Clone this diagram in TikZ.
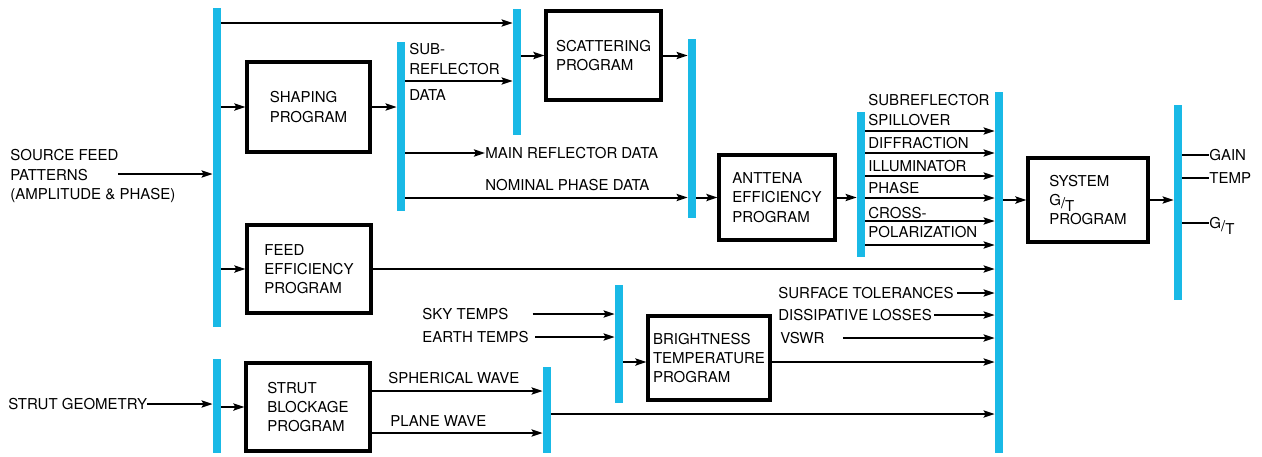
\documentclass[tikz,border=0pt]{standalone}
\usepackage{fontspec}
\setmainfont{TeX Gyre Heros}
\usetikzlibrary{arrows.meta}
\definecolor{busblue}{RGB}{25,185,230}
\newcommand{\lblfont}{\fontsize{7.5}{9.6}\selectfont}
\newcommand{\GoverT}{G\raisebox{-0.35ex}{/}\raisebox{-0.75ex}{T}}

\begin{document}
\begin{tikzpicture}[x=0.5pt, y=-0.5pt, >={Stealth[length=5.5pt,width=3.6pt,inset=1pt]},
  bus/.style={fill=busblue, minimum width=4pt, inner sep=0pt},
  prog/.style={draw, line width=1.6pt, align=left, inner sep=0pt, font=\lblfont},
  lbl/.style={inner sep=0pt, align=left, anchor=west, font=\lblfont},
  flow/.style={->, line width=1pt},
  wire/.style={line width=1pt}]

  \useasboundingbox (0,0) rectangle (1262,456);

  % ---- buses ----
  \node[bus, minimum height=159.5pt] (busA) at (217,167.5) {};
  \node[bus, minimum height=84.5pt]  (busB) at (401,126.5) {};
  \node[bus, minimum height=63pt]    (busC) at (517,72) {};
  \node[bus, minimum height=89.5pt]  (busD) at (692,128.5) {};
  \node[bus, minimum height=72.5pt]  (busE) at (861,184.5) {};
  \node[bus, minimum height=180.5pt] (busF) at (999,272.5) {};
  \node[bus, minimum height=97.5pt]  (busG) at (1178,202.5) {};
  \node[bus, minimum height=47pt]    (busH) at (217,406) {};
  \node[bus, minimum height=43pt]    (busI) at (547,410) {};
  \node[bus, minimum height=59pt]    (busJ) at (619,344) {};

  % ---- programs ----
  \node[prog, minimum width=61.5pt, minimum height=45pt]   (shaping) at (308.5,107) {SHAPING\\PROGRAM};
  \node[prog, minimum width=57.5pt, minimum height=44.5pt] (scatter) at (603.5,55.5) {SCATTERING\\PROGRAM};
  \node[prog, minimum width=58pt, minimum height=42.5pt]   (antenna) at (777,197.5) {ANTTENA\\EFFICIENCY\\PROGRAM};
  \node[prog, minimum width=60pt, minimum height=42pt]     (system)  at (1088,200) {SYSTEM\\\GoverT\\PROGRAM};
  \node[prog, minimum width=62pt, minimum height=44pt]     (feed)    at (309,269) {FEED\\EFFICIENCY\\PROGRAM};
  \node[prog, minimum width=62pt, minimum height=44pt]     (strut)   at (308,407) {STRUT\\BLOCKAGE\\PROGRAM};
  \node[prog, minimum width=61pt, minimum height=42pt]     (bright)  at (709,358) {BRIGHTNESS\\TEMPERATURE\\PROGRAM};

  % ---- labels ----
  \node[lbl] (source)   at (10,176)    {SOURCE FEED\\PATTERNS\\(AMPLITUDE \& PHASE)};
  \node[lbl] (subrefl)  at (409,59)    {SUB-\\REFLECTOR};
  \node[lbl] (data)     at (409,95)    {DATA};
  \node[lbl] (mainrefl) at (485,153)   {MAIN REFLECTOR DATA};
  \node[lbl] (nominal)  at (485,185)   {NOMINAL PHASE DATA};
  \node[lbl] (spill)    at (868,110)   {SUBREFLECTOR\\SPILLOVER};
  \node[lbl] (diffr)    at (868,143)   {DIFFRACTION};
  \node[lbl] (illum)    at (868,166)   {ILLUMINATOR};
  \node[lbl] (phase)    at (868,188)   {PHASE};
  \node[lbl] (crosspol) at (868,222.5) {CROSS-\\POLARIZATION};
  \node[lbl] (gain)     at (1209,155)  {GAIN};
  \node[lbl] (temp)     at (1209,178)  {TEMP};
  \node[lbl, anchor=base west] (gtout) at (1209,228.5) {\GoverT};
  \node[lbl] (sky)      at (422,314)   {SKY TEMPS};
  \node[lbl] (earth)    at (422,337)   {EARTH TEMPS};
  \node[lbl] (surf)     at (778,293)   {SURFACE TOLERANCES};
  \node[lbl] (dissip)   at (778,315)   {DISSIPATIVE LOSSES};
  \node[lbl] (vswr)     at (780,338)   {VSWR};
  \node[lbl] (strutgeo) at (8,404)     {STRUT GEOMETRY};
  \node[lbl] (spher)    at (388,378)   {SPHERICAL WAVE};
  \node[lbl] (plane)    at (390,421)   {PLANE WAVE};

  % ---- row levels that no node fixes ----
  \coordinate (srcin)   at (118,174);
  \coordinate (ytop)    at (217,23);
  \coordinate (ysub)    at (401,81);
  \coordinate (gtline)  at (1209,223);
  \coordinate (ybright) at (619,362);
  \coordinate (ysph)    at (547,391);
  \coordinate (yplane)  at (547,433);
  \coordinate (yplout)  at (547,414);

  % ---- reflector chain ----
  \draw[flow] (srcin) -- (busA.west |- srcin);
  \draw[flow] (busA.east |- ytop) -- (busC.west |- ytop);
  \draw[flow] (busA.east |- shaping.west) -- (shaping.west);
  \draw[flow] (shaping.east) -- (busB.west |- shaping.east);
  \draw[flow] (busB.east |- ysub) -- (busC.west |- ysub);
  \draw[flow] (busB.east |- mainrefl.west) -- (mainrefl.west);
  \draw[flow] (busB.east |- antenna.west) -- (busD.west |- antenna.west);
  \draw[flow] (busC.east |- scatter.west) -- (scatter.west);
  \draw[flow] (scatter.east) -- (busD.west |- scatter.east);
  \draw[flow] (busD.east |- antenna.west) -- (antenna.west);
  \draw[flow] (antenna.east) -- (busE.west |- antenna.east);

  % efficiency terms into the collector
  \foreach \y [count=\i] in {131,153,176,198,221,245} {
    \coordinate (e\i) at (861,\y);
    \draw[flow] (busE.east |- e\i) -- (busF.west |- e\i);
  }

  % ---- system G/T ----
  \draw[flow] (busF.east |- system.west) -- (system.west);
  \draw[flow] (system.east) -- (busG.west |- system.east);
  \foreach \out in {gain,temp}
    \draw[wire] (busG.east |- \out.west) -- (\out.west);
  \draw[wire] (busG.east |- gtline) -- (gtline);

  % ---- feed, temperatures, losses ----
  \draw[flow] (busA.east |- feed.west) -- (feed.west);
  \draw[flow] (feed.east) -- (busF.west |- feed.east);
  \draw[flow] ([xshift=12pt]sky.east) -- (busJ.west |- sky.east);
  \draw[flow] ([xshift=3pt]earth.east) -- (busJ.west |- earth.east);
  \draw[flow] (busJ.east |- ybright) -- (bright.west |- ybright);
  \draw[flow] (bright.east |- ybright) -- (busF.west |- ybright);
  \draw[flow] ([xshift=1.5pt]surf.east) -- (busF.west |- surf.east);
  \draw[flow] ([xshift=1pt]dissip.east) -- (busF.west |- dissip.east);
  \draw[flow] ([xshift=9pt]vswr.east) -- (busF.west |- vswr.east);

  % ---- strut blockage ----
  \draw[flow] (strutgeo.east) -- (busH.west |- strutgeo.east);
  \draw[flow] (busH.east |- strut.west) -- (strut.west);
  \draw[flow] (strut.east |- ysph) -- (busI.west |- ysph);
  \draw[flow] (strut.east |- yplane) -- (busI.west |- yplane);
  \draw[flow] (busI.east |- yplout) -- (busF.west |- yplout);

\end{tikzpicture}
\end{document}
